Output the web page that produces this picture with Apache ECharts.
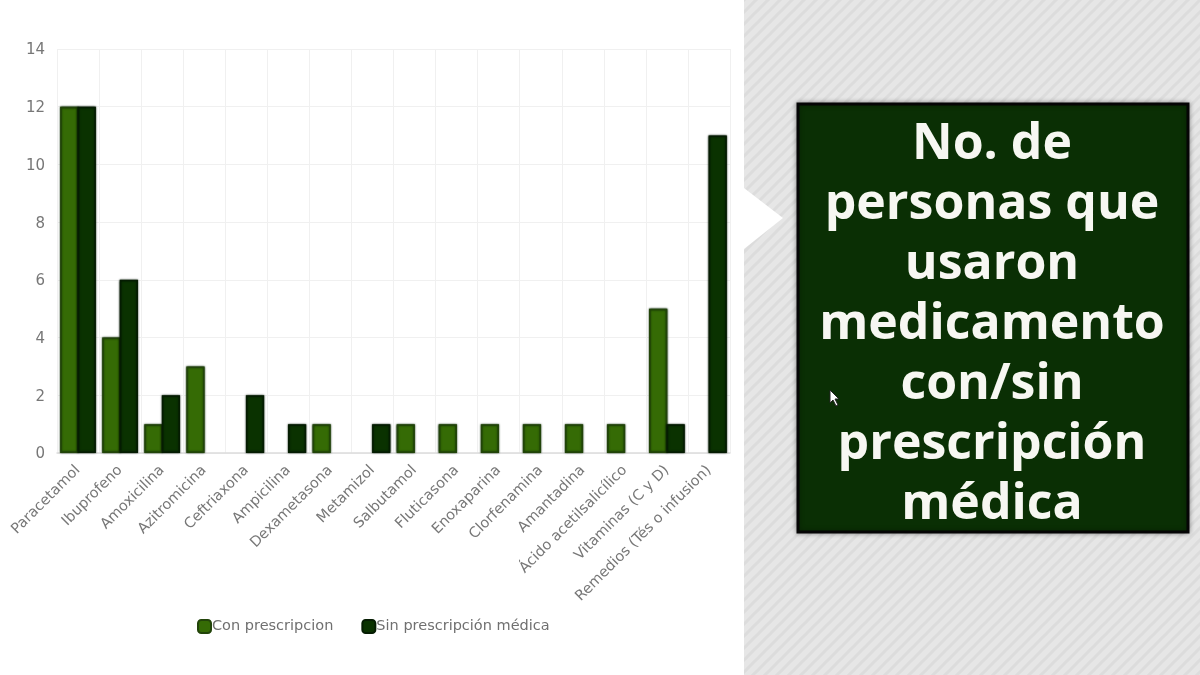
<!DOCTYPE html>
<html><head><meta charset="utf-8">
<style>html,body{margin:0;padding:0;background:#fff}#c{width:1200px;height:675px}</style>
<script src="https://cdn.jsdelivr.net/npm/echarts@6/dist/echarts.min.js"></script>
</head><body><div id="c"></div>
<script>
const categories = ["Paracetamol","Ibuprofeno","Amoxicilina","Azitromicina","Ceftriaxona","Ampicilina","Dexametasona","Metamizol","Salbutamol","Fluticasona","Enoxaparina","Clorfenamina","Amantadina","Ácido acetilsalicílico","Vitaminas (C y D)","Remedios (Tés o infusion)"];
const conPrescripcion = [12,4,1,3,null,null,1,null,1,1,1,1,1,1,5,null];
const sinPrescripcion = [12,6,2,null,2,1,null,1,null,null,null,null,null,null,1,11];
const seriesNames = ["Con prescripcion","Sin prescripción médica"];
const titleLines = ["No. de","personas que","usaron","medicamento","con/sin","prescripción","médica"];

const p = document.createElement('canvas'); p.width = 12; p.height = 12;
const g = p.getContext('2d');
g.fillStyle = '#e6e6e6'; g.fillRect(0,0,12,12);
g.strokeStyle = '#dcdcdc'; g.lineWidth = 3;
[[-6,6,6,-6],[0,12,12,0],[6,18,18,6]].forEach(l=>{g.beginPath();g.moveTo(l[0],l[1]);g.lineTo(l[2],l[3]);g.stroke();});

const FONT = 'DejaVu Sans';
const chart = echarts.init(document.getElementById('c'), null, {renderer:'canvas'});
chart.setOption({
  animation:false,
  backgroundColor:'#fff',
  textStyle:{fontFamily:FONT},
  grid:{left:57,right:470,top:49,bottom:222,containLabel:false},
  legend:{
    show:true,left:192,top:614,itemWidth:13,itemHeight:13,itemGap:28,icon:'roundRect',
    textStyle:{color:'#707070',fontSize:14.5,fontFamily:FONT,padding:[0,0,0,-4]},
    data:seriesNames
  },
  xAxis:{
    type:'category',data:categories,
    axisTick:{show:false},
    axisLine:{lineStyle:{color:'#dcdcdc',width:1.5}},
    splitLine:{show:true,lineStyle:{color:'#f0f0f0',width:1}},
    axisLabel:{interval:0,rotate:45,margin:15,color:'#777777',fontSize:14.5,fontFamily:FONT}
  },
  yAxis:{
    type:'value',min:0,max:14,interval:2,
    axisLine:{show:false},axisTick:{show:false},
    splitLine:{lineStyle:{color:'#f0f0f0',width:1}},
    axisLabel:{color:'#777777',fontSize:15,margin:12,fontFamily:FONT,verticalAlign:'bottom',padding:[0,0,-9,0]}
  },
  series:[
    {name:seriesNames[0],type:'bar',data:conPrescripcion,barGap:'-4%',barCategoryGap:'15%',
     itemStyle:{color:'#356b05',borderColor:'#22440a',borderWidth:1.5,shadowBlur:2,shadowColor:'rgba(10,40,0,.9)'}},
    {name:seriesNames[1],type:'bar',data:sinPrescripcion,
     itemStyle:{color:'#0a3200',borderColor:'#051c02',borderWidth:1.5,shadowBlur:2,shadowColor:'rgba(0,20,0,.9)'}}
  ],
  graphic:[
    {type:'rect',silent:true,z:10,shape:{x:744,y:0,width:456,height:675},style:{fill:{image:p,repeat:'repeat'}}},
    {type:'polygon',silent:true,z:11,shape:{points:[[744,188],[783,218],[744,249]]},style:{fill:'#fff'}},
    {type:'rect',silent:true,z:12,shape:{x:798,y:104,width:390,height:428},
      style:{fill:'#0a2f04',stroke:'#050505',lineWidth:3,shadowBlur:5,shadowColor:'rgba(0,0,0,.35)'}},
    {type:'text',silent:true,z:13,style:{x:992,y:115,text:titleLines.join('\n'),fill:'#f7f7f2',
      fontFamily:'Open Sans',fontWeight:'bold',fontSize:50,lineHeight:60,align:'center',verticalAlign:'top'}},
    {type:'polygon',silent:true,z:14,shape:{points:[[830,390],[830,403],[833,400],[836,406],[838,405],[835,399],[839,399]]},
      style:{fill:'#fff',stroke:'#222',lineWidth:1}}
  ]
});
</script></body></html>
